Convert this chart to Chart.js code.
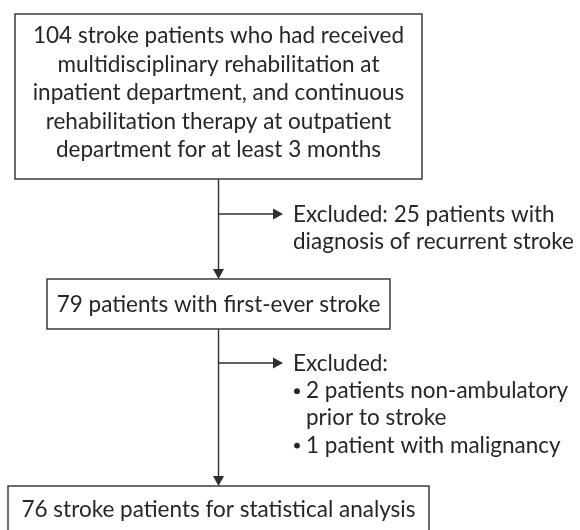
<!DOCTYPE html>
<html>
<head>
<meta charset="utf-8">
<script src="https://cdn.jsdelivr.net/npm/chart.js@4/dist/chart.umd.min.js"></script>
<style>
  html, body { margin: 0; padding: 0; background: #ffffff; }
  #wrap { width: 580px; height: 530px; }
</style>
</head>
<body>
<div id="wrap"><canvas id="c" width="580" height="530"></canvas></div>
<script>
// ---- data (counts and texts) ----
const stageCounts = [104, 79, 76];
const excludedCounts = [25, 2, 1];
const stageText = [
  [
    `${stageCounts[0]} stroke patients who had received`,
    "multidisciplinary rehabilitation at",
    "inpatient department, and continuous",
    "rehabilitation therapy at outpatient",
    "department for at least 3 months"
  ],
  [`${stageCounts[1]} patients with first-ever stroke`],
  [`${stageCounts[2]} stroke patients for statistical analysis`]
];
const excludedText = [
  [
    { bullet: false, text: `Excluded: ${excludedCounts[0]} patients with` },
    { bullet: false, text: "diagnosis of recurrent stroke" }
  ],
  [
    { bullet: false, text: "Excluded:" },
    { bullet: true,  text: `${excludedCounts[1]} patients non-ambulatory`, indent: true },
    { bullet: false, text: "prior to stroke", indent: true },
    { bullet: true,  text: `${excludedCounts[2]} patient with malignancy`, indent: true }
  ]
];

// ---- layout (positions/sizes, in scale units) ----
const layoutBoxes = [
  { left: 15, right: 422, top: 14,  bottom: 179, baseline: 43 },
  { left: 47, right: 390, top: 279, bottom: 329, baseline: 312 },
  { left: 8,  right: 429, top: 486, bottom: 537, baseline: 517 }
];
const layoutSpineX = 218.5;
const layoutBranchY = [214, 363];
const layoutBranchTip = 283;
const layoutNoteX = 293;
const layoutNoteIndentX = 306;
const layoutNoteBaseline = [222, 371];
const boxLineGap = 28.5;
const noteLineGap = 27.2;

// ---- style ----
const FONT = '22.5px Lato, "Open Sans", sans-serif';
const TEXT_COLOR = '#262626';
const LINE_COLOR = '#2e2e2e';

const flowPlugin = {
  id: 'flow',
  afterDraw(chart) {
    const ctx = chart.ctx;
    const xs = chart.scales.x, ys = chart.scales.y;
    const X = v => xs.getPixelForValue(v);
    const Y = v => ys.getPixelForValue(v);
    ctx.save();
    ctx.lineWidth = 1.4;
    ctx.strokeStyle = LINE_COLOR;
    ctx.fillStyle = LINE_COLOR;

    function arrowDown(x, y) {
      ctx.beginPath();
      ctx.moveTo(X(x), Y(y));
      ctx.lineTo(X(x) - 5.5, Y(y) - 10);
      ctx.lineTo(X(x) + 5.5, Y(y) - 10);
      ctx.closePath();
      ctx.fill();
    }
    function arrowRight(x, y) {
      ctx.beginPath();
      ctx.moveTo(X(x), Y(y));
      ctx.lineTo(X(x) - 10, Y(y) - 5.5);
      ctx.lineTo(X(x) - 10, Y(y) + 5.5);
      ctx.closePath();
      ctx.fill();
    }

    // boxes
    layoutBoxes.forEach(b => {
      ctx.strokeRect(X(b.left), Y(b.top), X(b.right) - X(b.left), Y(b.bottom) - Y(b.top));
    });

    // spines between boxes with down arrows
    for (let i = 0; i < layoutBoxes.length - 1; i++) {
      const from = layoutBoxes[i].bottom, to = layoutBoxes[i + 1].top;
      ctx.beginPath();
      ctx.moveTo(X(layoutSpineX), Y(from));
      ctx.lineTo(X(layoutSpineX), Y(to) - 8);
      ctx.stroke();
      arrowDown(layoutSpineX, to);
      // branch
      const by = layoutBranchY[i];
      ctx.beginPath();
      ctx.moveTo(X(layoutSpineX), Y(by));
      ctx.lineTo(X(layoutBranchTip) - 8, Y(by));
      ctx.stroke();
      arrowRight(layoutBranchTip, by);
    }

    // texts
    ctx.font = FONT;
    ctx.fillStyle = TEXT_COLOR;
    ctx.textBaseline = 'alphabetic';
    ctx.textAlign = 'center';
    layoutBoxes.forEach((b, i) => {
      const cx = (X(b.left) + X(b.right)) / 2;
      stageText[i].forEach((line, k) => {
        ctx.fillText(line, cx, Y(b.baseline + k * boxLineGap));
      });
    });
    ctx.textAlign = 'left';
    excludedText.forEach((lines, i) => {
      lines.forEach((ln, k) => {
        const y = Y(layoutNoteBaseline[i] + k * noteLineGap);
        if (ln.bullet) {
          ctx.beginPath();
          ctx.arc(X(layoutNoteX) + 4, y - 7, 2.9, 0, Math.PI * 2);
          ctx.fill();
        }
        ctx.fillText(ln.text, X(ln.indent ? layoutNoteIndentX : layoutNoteX), y);
      });
    });
    ctx.restore();
  }
};

new Chart(document.getElementById('c'), {
  type: 'scatter',
  data: { datasets: [{ data: [], pointRadius: 0 }] },
  options: {
    responsive: false,
    animation: false,
    events: [],
    layout: { padding: 0 },
    plugins: { legend: { display: false }, tooltip: { enabled: false } },
    scales: {
      x: { type: 'linear', min: 0, max: 580, display: false },
      y: { type: 'linear', min: 0, max: 530, reverse: true, display: false }
    }
  },
  plugins: [flowPlugin]
});
</script>
</body>
</html>
